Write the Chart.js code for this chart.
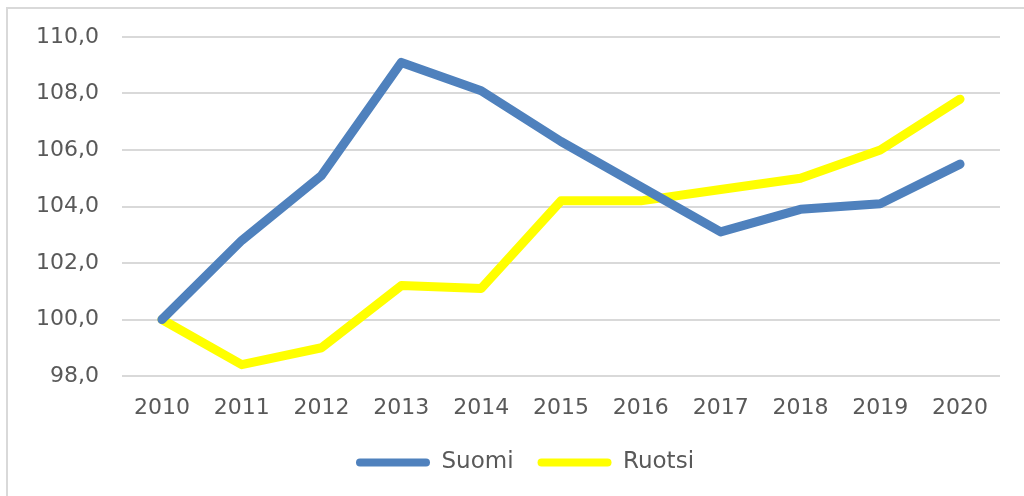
<!DOCTYPE html>
<html>
<head>
<meta charset="utf-8">
<script src="https://cdn.jsdelivr.net/npm/chart.js@4/dist/chart.umd.min.js"></script>
<style>
  html, body { margin: 0; padding: 0; background: #ffffff; overflow: hidden; width: 1024px; height: 496px; }
  #frame { position: absolute; left: 6px; top: 7px; width: 1040px; height: 520px; border: 2px solid #d9d9d9; box-sizing: border-box; }
  #wrap { position: absolute; left: 0; top: 0; width: 1050px; height: 496px; }
</style>
</head>
<body>
<div id="frame"></div>
<div id="wrap"><canvas id="c"></canvas></div>
<script>
const years = ['2010','2011','2012','2013','2014','2015','2016','2017','2018','2019','2020'];
const suomi = [100.0, 102.8, 105.1, 109.1, 108.1, 106.3, 104.7, 103.1, 103.9, 104.1, 105.5];
const ruotsi = [100.0, 98.4, 99.0, 101.2, 101.1, 104.2, 104.2, 104.6, 105.0, 106.0, 107.8];
const seriesNames = ['Suomi', 'Ruotsi'];
const yMin = 98, yMax = 110, yStep = 2;

const FONT = "'DejaVu Sans', sans-serif";
const TXT = '#595959';

new Chart(document.getElementById('c'), {
  type: 'line',
  data: {
    labels: years,
    datasets: [
      { label: seriesNames[0], data: suomi, borderColor: '#4f81bd', backgroundColor: '#4f81bd',
        borderWidth: 9, pointRadius: 0, tension: 0, borderJoinStyle: 'round', borderCapStyle: 'round' },
      { label: seriesNames[1], data: ruotsi, borderColor: '#ffff00', backgroundColor: '#ffff00',
        borderWidth: 9, pointRadius: 0, tension: 0, borderJoinStyle: 'round', borderCapStyle: 'round' }
    ]
  },
  options: {
    responsive: true,
    maintainAspectRatio: false,
    animation: false,
    layout: { padding: { left: 0, right: 0, top: 37, bottom: 12 } },
    plugins: {
      tooltip: { enabled: false },
      legend: {
        position: 'bottom',
        labels: {
          font: { family: FONT, size: 23 },
          color: TXT,
          boxWidth: 74,
          boxHeight: 8,
          useBorderRadius: true,
          borderRadius: 4,
          padding: 24,
          generateLabels(chart) {
            return chart.data.datasets.map((ds, i) => ({
              text: ds.label, fillStyle: ds.borderColor, strokeStyle: ds.borderColor,
              lineWidth: 0, hidden: false, datasetIndex: i, fontColor: TXT, borderRadius: 4
            }));
          }
        }
      }
    },
    scales: {
      x: {
        offset: true,
        grid: { display: false, drawTicks: false },
        border: { display: false },
        ticks: { font: { family: FONT, size: 22 }, color: TXT, padding: 19, maxRotation: 0 },
        afterFit(scale) { scale.height = 51; }
      },
      y: {
        min: yMin, max: yMax,
        grid: { color: '#d9d9d9', lineWidth: 2, drawTicks: false },
        border: { display: false },
        ticks: {
          stepSize: yStep,
          font: { family: FONT, size: 22 }, color: TXT, padding: 23,
          callback: v => v.toFixed(1).replace('.', ',')
        },
        afterFit(scale) { scale.width = 122; }
      },
      yr: {
        position: 'right',
        min: yMin, max: yMax,
        grid: { display: false, drawTicks: false },
        border: { display: false },
        ticks: { display: false },
        afterFit(scale) { scale.width = 50; }
      }
    }
  }
});
</script>
</body>
</html>
